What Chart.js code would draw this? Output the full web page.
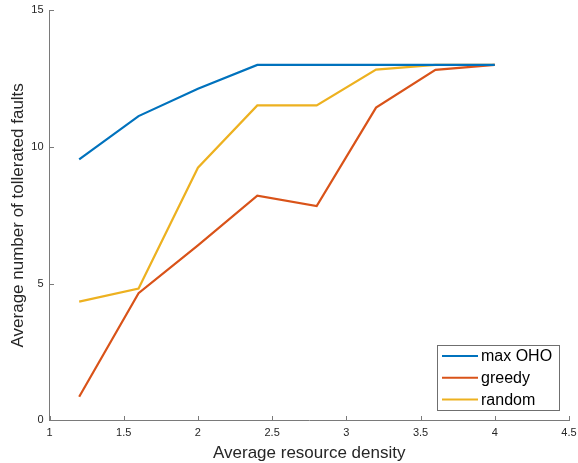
<!DOCTYPE html>
<html>
<head>
<meta charset="utf-8">
<script src="https://cdn.jsdelivr.net/npm/chart.js@4.4.1/dist/chart.umd.min.js"></script>
<style>
  html, body { margin: 0; padding: 0; background: #fff; }
  #wrap { width: 578px; height: 463px; }
</style>
</head>
<body>
<div id="wrap"><canvas id="chart" width="578" height="463"></canvas></div>
<script>
const densities = [1.2, 1.6, 2.0, 2.4, 2.8, 3.2, 3.6, 4.0];
const maxOho = [9.55, 11.13, 12.13, 13.0, 13.0, 13.0, 13.0, 13.0];
const greedy = [0.86, 4.65, 6.4, 8.22, 7.84, 11.44, 12.82, 13.0];
const random = [4.34, 4.82, 9.24, 11.52, 11.52, 12.83, 13.0, 13.0];
const seriesNames = ['max OHO', 'greedy', 'random'];
const seriesColors = ['#0072BD', '#D95319', '#EDB120'];

const FONT = '"Liberation Sans", Arial, sans-serif';
const axisGrey = '#7a7a7a';
const textDark = '#262626';

function points(ys) {
  return densities.map((x, i) => ({ x: x, y: ys[i] }));
}

// ticks pointing inward, like matlab
const innerTicks = {
  id: 'innerTicks',
  afterDraw(chart) {
    const ctx = chart.ctx;
    const xs = chart.scales.x, ys = chart.scales.y;
    const a = chart.chartArea;
    const bottom = Math.round(a.bottom), left = Math.round(a.left);
    ctx.save();
    ctx.strokeStyle = axisGrey;
    ctx.lineWidth = 1;
    ctx.beginPath();
    xs.ticks.forEach(t => {
      const px = Math.round(xs.getPixelForValue(t.value)) + 0.5;
      ctx.moveTo(px, bottom);
      ctx.lineTo(px, bottom - 4);
    });
    ys.ticks.forEach(t => {
      const py = Math.round(ys.getPixelForValue(t.value)) + 0.5;
      ctx.moveTo(left, py);
      ctx.lineTo(left + 4, py);
    });
    ctx.stroke();
    ctx.restore();
  }
};

// legend box in the lower right corner of the plot
const boxLegend = {
  id: 'boxLegend',
  afterDraw(chart) {
    const ctx = chart.ctx;
    const left = 437, top = 345, w = 122, h = 65;
    ctx.save();
    ctx.fillStyle = '#fff';
    ctx.fillRect(left, top, w, h);
    ctx.strokeStyle = '#6f6f6f';
    ctx.lineWidth = 1;
    ctx.strokeRect(left + 0.5, top + 0.5, w, h);
    ctx.font = '16px ' + FONT;
    ctx.textBaseline = 'middle';
    chart.data.datasets.forEach((ds, i) => {
      const y = top + 11 + i * 21.7;
      ctx.strokeStyle = ds.borderColor;
      ctx.lineWidth = 2;
      ctx.beginPath();
      ctx.moveTo(442, y);
      ctx.lineTo(478, y);
      ctx.stroke();
      ctx.fillStyle = '#000';
      ctx.fillText(ds.label, 481, y + 1);
    });
    ctx.restore();
  }
};

new Chart(document.getElementById('chart'), {
  type: 'line',
  data: {
    datasets: [
      { label: seriesNames[0], data: points(maxOho), borderColor: seriesColors[0] },
      { label: seriesNames[1], data: points(greedy), borderColor: seriesColors[1] },
      { label: seriesNames[2], data: points(random), borderColor: seriesColors[2] }
    ].map(d => Object.assign(d, { borderWidth: 2.2, pointRadius: 0, fill: false, tension: 0 }))
  },
  options: {
    responsive: false,
    animation: false,
    layout: { padding: { top: 10.3, right: 9, left: 0, bottom: 0 } },
    plugins: { legend: { display: false }, tooltip: { enabled: false } },
    scales: {
      x: {
        type: 'linear', min: 1, max: 4.5,
        grid: { display: false, drawTicks: false, tickLength: 0 },
        border: { color: axisGrey, width: 1 },
        ticks: {
          stepSize: 0.5, color: textDark, font: { family: FONT, size: 11 }, padding: 6, maxRotation: 0,
          callback: v => String(Math.round(v * 10) / 10)
        },
        title: { display: true, text: 'Average resource density', color: textDark, font: { family: FONT, size: 17 }, padding: { top: 0, bottom: -1 } },
        afterFit(s) { s.height = 42.7; s.paddingLeft = 0; s.paddingRight = 0; }
      },
      y: {
        min: 0, max: 15,
        grid: { display: false, drawTicks: false, tickLength: 0 },
        border: { color: axisGrey, width: 1 },
        ticks: { stepSize: 5, color: textDark, font: { family: FONT, size: 11 }, padding: 6 },
        title: { display: true, text: 'Average number of tollerated faults', color: textDark, font: { family: FONT, size: 17 }, padding: { top: 8, bottom: 0 } },
        afterFit(s) { s.width = 49.5; s.paddingTop = 0; s.paddingBottom = 0; }
      }
    }
  },
  plugins: [innerTicks, boxLegend]
});
</script>
</body>
</html>
